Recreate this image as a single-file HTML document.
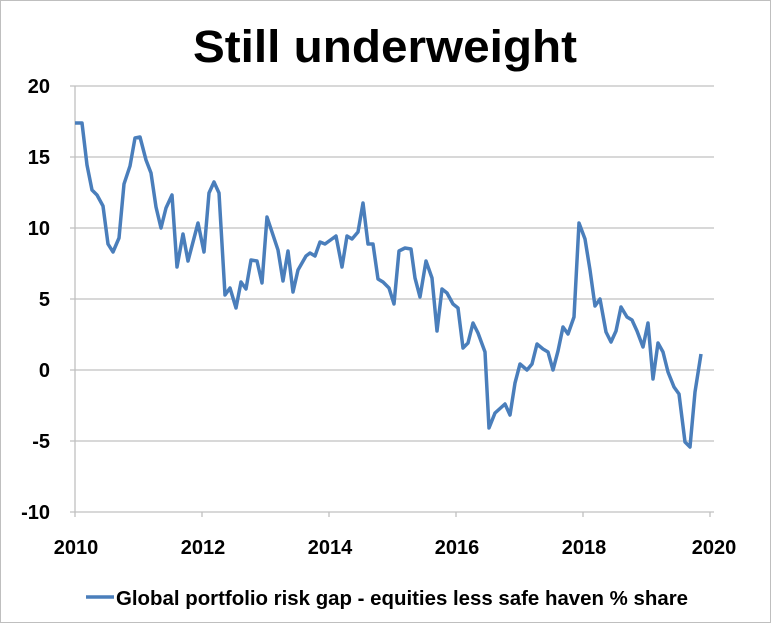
<!DOCTYPE html>
<html><head><meta charset="utf-8"><style>
body{margin:0;background:#fff}
svg{display:block;font-family:"Liberation Sans",Arial,sans-serif}
</style></head><body>
<svg width="771" height="623" viewBox="0 0 771 623">
<rect x="0.5" y="0.5" width="770" height="622" fill="#fff" stroke="#bfbfbf"/>
<text x="193" y="62" font-size="45" font-weight="bold" fill="#000" textLength="384" lengthAdjust="spacingAndGlyphs">Still underweight</text>
<g stroke="#c0c0c0" stroke-width="1.3">
<line x1="70" y1="86" x2="714" y2="86"/>
<line x1="70" y1="157" x2="714" y2="157"/>
<line x1="70" y1="228" x2="714" y2="228"/>
<line x1="70" y1="299" x2="714" y2="299"/>
<line x1="70" y1="370" x2="714" y2="370"/>
<line x1="70" y1="441" x2="714" y2="441"/>
<line x1="70" y1="512" x2="714" y2="512"/>
<line x1="75" y1="86" x2="75" y2="517"/>
<line x1="202" y1="512" x2="202" y2="517"/>
<line x1="329" y1="512" x2="329" y2="517"/>
<line x1="456" y1="512" x2="456" y2="517"/>
<line x1="583" y1="512" x2="583" y2="517"/>
<line x1="710" y1="512" x2="710" y2="517"/>
</g>
<g font-size="20" font-weight="bold" fill="#000" text-anchor="end">
<text x="50" y="93">20</text><text x="50" y="164">15</text><text x="50" y="235">10</text>
<text x="50" y="306">5</text><text x="50" y="377">0</text><text x="50" y="448">-5</text><text x="50" y="519">-10</text>
</g>
<g font-size="20" font-weight="bold" fill="#000" text-anchor="middle">
<text x="76" y="554">2010</text><text x="203" y="554">2012</text><text x="330" y="554">2014</text>
<text x="457" y="554">2016</text><text x="584" y="554">2018</text><text x="714" y="554">2020</text>
</g>
<polyline fill="none" stroke="#4a7ebb" stroke-width="3.5" stroke-linejoin="round" points="75,123 82,123 87,165 92,190 97,195 103,206 108,244 113,252 119,238 124,184 130,166 135,138 140,137 146,160 151,173 156,207 161,228 166,208 172,195 177,267 183,234 188,261 198,223 204,252 209,193 214,182 219,193 225,295 230,288 236,308 241,282 246,289 251,260 257,261 262,283 267,217 278,250 283,281 288,251 293,292 298,270 306,256 310,253 315,256 320,242 325,244 336,236 342,267 347,236 352,239 358,232 363,203 368,244 373,244 378,279 383,282 389,288 394,304 399,251 405,248 411,249 415,278 420,297 426,261 432,278 437,331 442,289 447,293 453,304 458,308 463,348 468,343 473,323 478,333 485,352 489,428 495,413 505,404 510,415 515,383 520,364 527,370 532,364 537,344 543,349 548,352 553,370 558,351 563,327 568,334 574,317 579,223 585,239 590,270 595,306 600,299 606,332 611,342 616,331 621,307 627,317 632,320 637,331 643,347 648,323 653,379 658,343 663,352 668,372 674,387 679,394 685,442 690,447 695,392 701,354"/>
<line x1="86" y1="597" x2="114" y2="597" stroke="#4a7ebb" stroke-width="3.5"/>
<text x="116" y="605" font-size="20" font-weight="bold" fill="#000" textLength="572" lengthAdjust="spacingAndGlyphs">Global portfolio risk gap - equities less safe haven % share</text>
</svg>
</body></html>
